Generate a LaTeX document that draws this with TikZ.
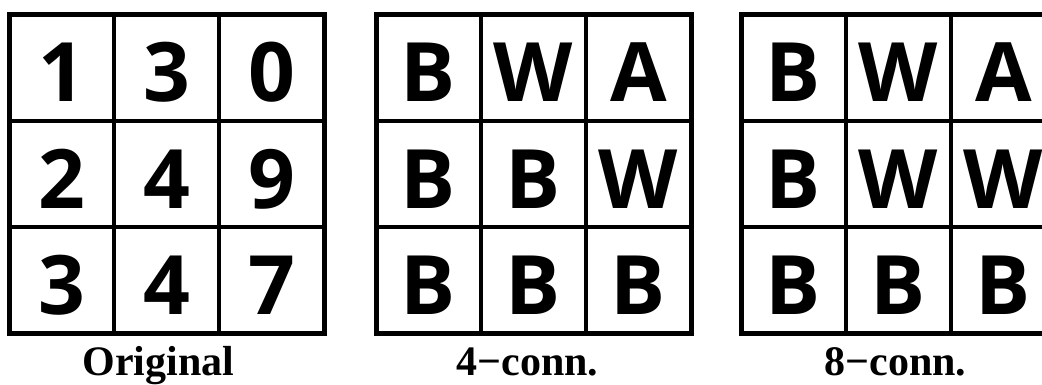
\documentclass[tikz,border=0pt]{standalone}
\usepackage{fontspec}
\usetikzlibrary{calc}
\setmainfont{Liberation Serif}
\newfontfamily\cellfont{Open Sans}
\begin{document}
\begin{tikzpicture}[x=1pt,y=-1pt,
  cellbox/.style={draw=black,line width=3.5pt,minimum width=105pt,minimum height=106pt,inner sep=0pt,outer sep=0pt},
  celltext/.style={font=\cellfont\bfseries\fontsize{82}{82}\selectfont,anchor=base,inner sep=0pt},
  framebox/.style={draw=black,line width=5pt},
  caption/.style={font=\bfseries\fontsize{42}{42}\selectfont,anchor=base,inner sep=0pt}]
\useasboundingbox (0,0) rectangle (1042,385);
\clip (0,0) rectangle (1042,385);
\foreach \g/\ox/\labels in {1/9/{1,3,0,2,4,9,3,4,7},2/376/{B,W,A,B,B,W,B,B,B},3/741/{B,W,A,B,W,W,B,B,B}}{
  \foreach \t [count=\i from 0] in \labels {
    \pgfmathtruncatemacro{\r}{div(\i,3)}
    \pgfmathtruncatemacro{\c}{mod(\i,3)}
    \node[cellbox] (g\g-\r-\c) at ({\ox+52.5+105*\c},{15+53+106*\r}) {};
    \node[celltext] (t\g-\r-\c) at ({\ox+52.5+105*\c},{15+106*\r+87}) {\t};
  }
  \draw[framebox] (g\g-0-0.north west) rectangle (g\g-2-2.south east);
}
\node[caption] (cap1) at ($(g1-2-1.south)+(-8,42)$) {Original};
\node[caption] (cap2) at ($(g2-2-1.south)+(-6,42)$) {4−conn.};
\node[caption] (cap3) at ($(g3-2-1.south)+(-3,42)$) {8−conn.};
\end{tikzpicture}
\end{document}
